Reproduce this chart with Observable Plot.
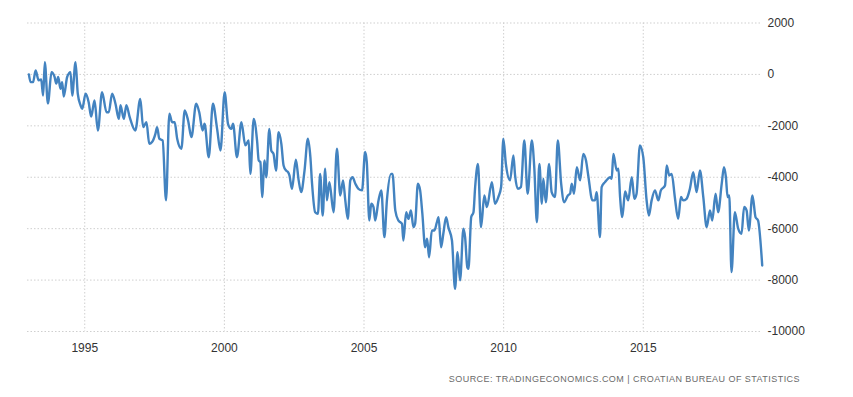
<!DOCTYPE html>
<html>
<head>
<meta charset="utf-8">
<script src="https://cdn.jsdelivr.net/npm/d3@7"></script>
<script src="https://cdn.jsdelivr.net/npm/@observablehq/plot@0.6"></script>
<style>
  html, body { margin: 0; padding: 0; background: #fff; }
  #wrap { position: relative; width: 853px; height: 397px; }
  #caption {
    position: absolute; top: 374px; right: 53px;
    font-family: "Liberation Sans", Arial, sans-serif; font-size: 9px;
    color: #6a6a6a; letter-spacing: 0.45px; white-space: nowrap;
  }
</style>
</head>
<body>
<div id="wrap">
  <div id="chart"></div>
  <div id="caption">SOURCE: TRADINGECONOMICS.COM | CROATIAN BUREAU OF STATISTICS</div>
</div>
<script>
// Time (decimal years) and trade balance values (HRK million)
const times = [
  1993.00,1993.06,1993.15,1993.24,1993.35,1993.44,1993.51,1993.57,1993.68,1993.81,1993.92,1993.98,
  1994.05,1994.13,1994.19,1994.25,1994.37,1994.49,1994.55,1994.67,1994.75,1994.85,1994.91,
  1995.03,1995.14,1995.23,1995.35,1995.47,1995.62,1995.78,1995.86,1995.98,
  1996.10,1996.22,1996.28,1996.40,1996.49,1996.61,1996.81,1996.99,
  1997.09,1997.21,1997.31,1997.41,1997.53,1997.59,1997.67,1997.79,1997.91,
  1998.03,1998.13,1998.22,1998.31,1998.46,1998.58,1998.70,1998.82,1998.99,
  1999.10,1999.22,1999.29,1999.44,1999.59,1999.74,1999.86,
  2000.01,2000.13,2000.25,2000.31,2000.45,2000.61,2000.75,2000.87,2000.93,
  2001.05,2001.17,2001.23,2001.29,2001.35,2001.44,2001.50,2001.61,2001.68,2001.76,2001.85,2001.94,
  2002.04,2002.12,2002.21,2002.28,2002.33,2002.42,2002.56,2002.66,2002.75,2002.87,2002.99,
  2003.08,2003.14,2003.25,2003.35,2003.43,2003.52,2003.61,2003.67,2003.76,2003.91,
  2004.03,2004.15,2004.25,2004.33,2004.42,2004.51,2004.59,2004.69,2004.80,2004.93,
  2005.04,2005.10,2005.19,2005.26,2005.34,2005.40,2005.52,2005.62,2005.73,2005.82,2005.97,
  2006.02,2006.12,2006.23,2006.36,2006.41,2006.51,2006.59,2006.68,2006.77,2006.83,2006.93,
  2007.01,2007.09,2007.19,2007.26,2007.33,2007.43,2007.52,2007.61,2007.67,2007.76,2007.84,2007.94,
  2008.02,2008.15,2008.26,2008.35,2008.44,2008.56,2008.62,2008.70,2008.74,2008.84,2008.92,2008.98,
  2009.08,2009.19,2009.31,2009.40,2009.58,2009.69,2009.81,2009.91,2009.99,
  2010.08,2010.23,2010.35,2010.41,2010.51,2010.62,2010.74,2010.86,
  2011.01,2011.10,2011.19,2011.28,2011.37,2011.42,2011.51,2011.63,2011.72,2011.84,2011.94,
  2012.06,2012.17,2012.30,2012.38,2012.44,2012.52,2012.62,2012.74,2012.85,2012.95,
  2013.03,2013.18,2013.27,2013.33,2013.45,2013.51,2013.63,2013.73,2013.81,2013.87,2013.93,
  2014.05,2014.11,2014.17,2014.25,2014.35,2014.46,2014.59,2014.68,2014.76,2014.88,
  2015.00,2015.12,2015.20,2015.30,2015.42,2015.54,2015.63,2015.78,2015.84,2015.93,
  2016.02,2016.13,2016.25,2016.35,2016.43,2016.55,2016.67,2016.79,2016.91,
  2017.03,2017.15,2017.27,2017.39,2017.47,2017.59,2017.68,2017.81,2017.89,2017.96,
  2018.02,2018.08,2018.16,2018.28,2018.40,2018.52,2018.61,2018.70,2018.78,2018.91,
  2019.02,2019.11,2019.26
];
const balance = [
  0,-300,-300,150,-230,-200,-820,480,-1130,90,-100,-360,
  -100,-560,-300,-860,-100,90,-820,480,-750,-1200,-1340,
  -750,-1080,-1640,-1010,-2180,-690,-1470,-1470,-750,
  -1140,-1730,-1200,-1730,-1200,-1660,-2180,-950,
  -2050,-1860,-2700,-2630,-2310,-2050,-2500,-2570,-4900,
  -1530,-1860,-1860,-2500,-2890,-1400,-1790,-2440,-1140,
  -1470,-2180,-1920,-3220,-1140,-2120,-2960,
  -690,-1920,-2120,-1920,-3220,-1860,-2760,-2570,-3870,
  -1730,-2570,-3350,-3410,-4770,-3350,-4000,-2120,-2960,-3090,-3740,-2250,
  -2700,-3540,-3740,-3800,-3930,-4450,-3320,-4120,-4580,-3740,-2500,
  -3220,-4250,-5360,-5420,-3870,-5490,-3670,-4900,-4190,-5360,
  -2890,-4710,-4120,-4900,-5620,-4120,-4000,-4250,-4450,-4510,
  -3020,-3410,-5680,-5030,-5160,-5680,-4900,-4510,-6330,-4900,-3870,
  -3870,-5290,-5680,-5810,-6460,-5360,-5620,-5290,-5940,-5810,-4250,
  -4510,-5420,-6720,-6390,-7110,-6070,-6070,-5750,-5550,-6720,-6200,-5550,
  -5940,-6460,-8340,-6920,-8010,-6000,-6330,-7500,-7560,-5550,-5360,-4380,
  -3480,-5940,-4710,-5160,-4190,-5030,-4770,-4380,-2500,
  -3480,-4120,-3150,-3930,-4450,-4380,-2570,-4640,
  -2570,-3670,-5750,-3480,-5030,-4060,-4970,-3480,-4580,-4770,-2570,
  -4250,-4970,-4710,-4640,-4250,-4640,-3610,-4120,-3090,-3350,
  -3930,-4900,-4900,-4580,-6330,-4380,-4190,-4060,-4000,-4060,-3090,
  -3740,-3670,-4770,-5550,-4550,-4900,-4000,-4840,-4640,-2760,
  -3220,-4900,-5490,-4900,-4510,-4900,-4510,-4320,-3540,-3930,
  -3870,-4770,-5620,-4770,-4900,-4840,-4450,-3800,-4580,
  -3740,-4770,-5940,-5290,-5680,-4640,-5360,-4250,-3610,-4000,
  -4770,-4710,-7690,-5360,-6000,-6200,-5160,-5290,-6070,-4710,
  -5550,-5680,-7430
];
const xTicks = [1995, 2000, 2005, 2010, 2015];
const yTicks = [-10000, -8000, -6000, -4000, -2000, 0, 2000];

const data = times.map((t, i) => ({t, v: balance[i]}));

const chart = Plot.plot({
  width: 853,
  height: 360,
  marginTop: 22.5,
  marginBottom: 29,
  marginLeft: 27,
  marginRight: 91,
  style: {fontFamily: "'Liberation Sans', Arial, sans-serif", fontSize: "12px", color: "#333", background: "#fff"},
  x: {domain: [1992.95, 2019.27]},
  y: {domain: [-10000, 2000]},
  marks: [
    Plot.gridY(yTicks, {stroke: "#cfcfcf", strokeOpacity: 1, strokeDasharray: "1.5,2"}),
    Plot.gridX(xTicks, {stroke: "#cfcfcf", strokeOpacity: 1, strokeDasharray: "1.5,2"}),
    Plot.axisY(yTicks, {anchor: "right", tickSize: 0, tickPadding: 5, tickFormat: d => String(d), label: null, fill: "#333", fontSize: 12}),
    Plot.axisX(xTicks, {tickSize: 0, tickPadding: 12, tickFormat: d => String(d), label: null, fill: "#333", fontSize: 12}),
    Plot.line(data, {x: "t", y: "v", stroke: "#4383c0", strokeWidth: 2.4, curve: "monotone-x"})
  ]
});
document.getElementById("chart").appendChild(chart);
</script>
</body>
</html>
